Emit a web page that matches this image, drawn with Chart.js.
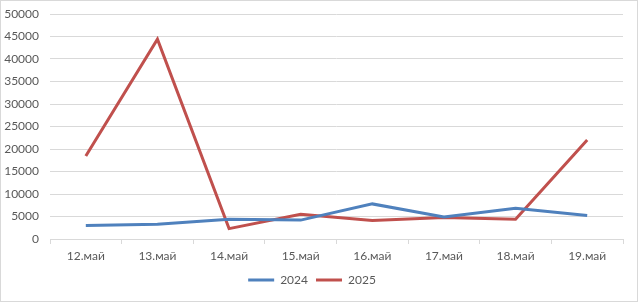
<!DOCTYPE html>
<html>
<head>
<meta charset="utf-8">
<script src="https://cdn.jsdelivr.net/npm/chart.js@4"></script>
<style>
  html, body { margin: 0; padding: 0; background: #fff; }
  #wrap { width: 636px; height: 300px; border: 1px solid #d9d9d9; }
</style>
</head>
<body>
<div id="wrap"><canvas id="chart" width="636" height="300"></canvas></div>
<script>
const categories = ['12.май', '13.май', '14.май', '15.май', '16.май', '17.май', '18.май', '19.май']
const values2024 = [3000, 3300, 4400, 4200, 7800, 4900, 6850, 5200]
const values2025 = [18450, 44400, 2300, 5500, 4100, 4750, 4400, 22000]
const yTicks = [0, 50000, 5000]  // min, max, step

Chart.defaults.font.family = 'Lato, "Open Sans", sans-serif'
Chart.defaults.font.size = 12
Chart.defaults.color = '#595959'

new Chart(document.getElementById('chart'), {
  type: 'line',
  data: {
    labels: categories,
    datasets: [
      {
        label: '2024',
        data: values2024,
        borderColor: '#4f81bd',
        backgroundColor: '#4f81bd',
        borderWidth: 3,
        pointRadius: 0,
        tension: 0
      },
      {
        label: '2025',
        data: values2025,
        borderColor: '#c0504d',
        backgroundColor: '#c0504d',
        borderWidth: 3,
        pointRadius: 0,
        tension: 0
      }
    ]
  },
  options: {
    responsive: false,
    animation: false,
    layout: { padding: { top: 13, right: 14, bottom: 5, left: 0 } },
    scales: {
      x: {
        offset: true,
        grid: {
          offset: true,
          drawOnChartArea: false,
          drawTicks: true,
          tickLength: 5,
          color: '#d9d9d9'
        },
        border: { color: '#d9d9d9' },
        ticks: { padding: 5, maxRotation: 0 },
        afterFit: s => { s.height = 27 }
      },
      y: {
        min: yTicks[0],
        max: yTicks[1],
        ticks: { stepSize: yTicks[2], padding: 11, callback: v => String(v) },
        grid: { color: '#d9d9d9', drawTicks: false },
        border: { display: false },
        afterFit: s => { s.width = 49; s.paddingTop = 0; s.paddingBottom = 0 }
      }
    },
    plugins: {
      legend: {
        position: 'bottom',
        labels: {
          usePointStyle: true,
          pointStyle: 'line',
          pointStyleWidth: 26,
          padding: 8,
          boxHeight: 12
        }
      },
      tooltip: { enabled: false }
    }
  }
})
</script>
</body>
</html>
